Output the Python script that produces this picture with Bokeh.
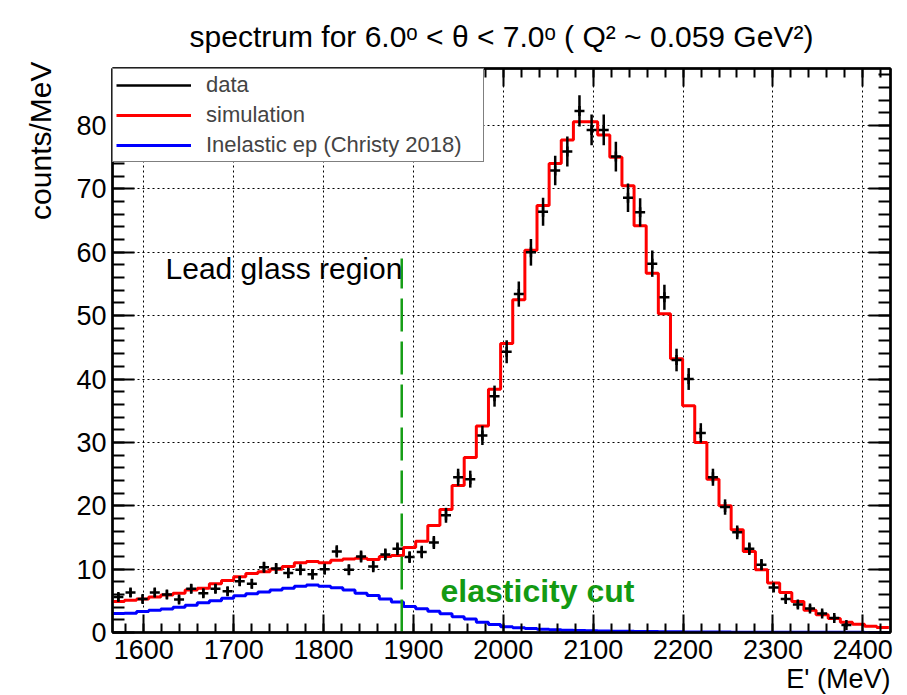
import numpy as np
from bokeh.plotting import figure
from bokeh.models import (ColumnDataSource, Label, Legend, LegendItem,
                          LinearAxis, Range1d, FixedTicker, Title)
from bokeh.embed import file_html
from bokeh.resources import INLINE

# ---- binning of the E' spectrum (MeV) ----
BIN_LOW = 1565.0
BIN_WIDTH = 13.5
N_BINS = 64

# ---- measured spectrum, counts/MeV per bin (filled bins only) ----
data_counts = [5.6, 6.3, 5.3, 6.3, 6.0, 5.2, 6.9, 6.2, 6.9, 6.5,
               8.1, 7.7, 10.3, 10.1, 9.4, 9.9, 9.2, 10.0, 12.8, 9.9,
               12.0, 10.4, 12.3, 13.2, 11.9, 12.7, 14.2, 18.5, 24.5, 24.2,
               31.1, 37.3, 44.3, 53.4, 60.0, 66.4, 72.9, 75.9, 82.3, 79.3,
               79.3, 75.1, 68.6, 66.3, 58.2, 52.9, 43.0, 40.0, 31.5, 24.5,
               19.8, 15.8, 13.2, 10.7, 7.1, 5.3, 4.4, 3.8, 3.0, 2.3,
               1.2]

# ---- full simulation ----
sim_counts = [4.9, 5.1, 5.3, 5.6, 5.9, 6.2, 6.7, 7.0, 7.7, 8.2,
              8.8, 9.3, 9.6, 10.0, 10.4, 11.0, 11.2, 11.0, 11.4, 11.6,
              11.7, 11.5, 12.0, 12.15, 13.4, 14.4, 16.9, 19.4, 23.2, 27.6,
              32.6, 38.4, 45.6, 52.5, 60.3, 67.4, 74.0, 77.7, 80.6, 80.6,
              78.5, 75.0, 70.5, 64.2, 56.7, 50.3, 43.2, 35.8, 30.0, 24.2,
              20.0, 16.2, 12.8, 9.9, 7.8, 6.3, 4.9, 3.5, 2.8, 2.2,
              1.6, 1.3, 1.0, 0.8]

# ---- inelastic ep contribution (Christy 2018) ----
inelastic_counts = [3.0, 3.05, 3.3, 3.5, 3.7, 4.0, 4.3, 4.7, 5.0, 5.4,
                    5.8, 6.1, 6.4, 6.7, 7.0, 7.3, 7.5, 7.3, 7.05, 6.7,
                    6.2, 5.85, 5.3, 4.8, 4.1, 3.75, 3.35, 2.95, 2.5, 2.15,
                    1.6, 1.25, 0.9, 0.75, 0.62, 0.5, 0.42, 0.35, 0.3, 0.27,
                    0.24, 0.21, 0.18, 0.16, 0.14, 0.12, 0.1, 0.09, 0.08, 0.07,
                    0.06, 0.05, 0.05, 0.04, 0.04, 0.03, 0.03, 0.03, 0.02, 0.02,
                    0.02, 0.02, 0.01, 0.01]

# elasticity cut position and the height of its marker line
cut_energy = 1887.0
cut_line_top = 59.0

x_ticks = [1600, 1700, 1800, 1900, 2000, 2100, 2200, 2300, 2400]
y_ticks = [0, 10, 20, 30, 40, 50, 60, 70, 80]

FONT = "Liberation Sans"

edges = BIN_LOW + BIN_WIDTH * np.arange(N_BINS + 1)
centers = 0.5 * (edges[:-1] + edges[1:])


def step_source(values):
    vals = list(values) + [values[-1]]
    return ColumnDataSource(dict(x=list(edges), y=vals))


p = figure(width=907, height=695, output_backend="svg", toolbar_location=None,
           x_range=Range1d(1565.2, 2430.8), y_range=Range1d(0, 89.0),
           min_border_left=112, min_border_right=17,
           min_border_top=68, min_border_bottom=63)
p.background_fill_color = "white"
p.border_fill_color = "white"
p.outline_line_color = "black"
p.outline_line_width = 2

# dotted grid at major ticks
for g in (p.xgrid, p.ygrid):
    g.grid_line_color = "black"
    g.grid_line_dash = "2 3"
    g.grid_line_width = 1
p.xgrid.ticker = FixedTicker(ticks=x_ticks)
p.ygrid.ticker = FixedTicker(ticks=y_ticks)


def style_axis(ax, ticks, minor, major_in, minor_in, labels=True):
    ax.ticker = FixedTicker(ticks=ticks, minor_ticks=minor)
    ax.major_tick_in = major_in
    ax.major_tick_out = 0
    ax.minor_tick_in = minor_in
    ax.minor_tick_out = 0
    ax.axis_line_width = 2.5
    ax.major_tick_line_width = 2
    ax.minor_tick_line_width = 2
    ax.major_label_text_font = FONT
    ax.major_label_text_font_size = "27px"
    ax.major_label_text_color = "black"
    if not labels:
        ax.major_label_overrides = {t: "" for t in ticks}
        ax.major_label_text_font_size = "10px"
        ax.major_label_standoff = 0


x_minor = list(np.arange(1560, 2440, 20))
y_minor = list(np.arange(0, 90, 2))

style_axis(p.xaxis[0], x_ticks, x_minor, 18, 9)
p.xaxis[0].major_label_standoff = 7
style_axis(p.yaxis[0], y_ticks, y_minor, 22, 12)
p.yaxis[0].major_label_standoff = 6

top_axis = LinearAxis()
style_axis(top_axis, x_ticks, x_minor, 18, 9, labels=False)
p.add_layout(top_axis, "above")
right_axis = LinearAxis()
style_axis(right_axis, y_ticks, y_minor, 22, 12, labels=False)
p.add_layout(right_axis, "right")

# histograms
inel_r = p.step("x", "y", source=step_source(inelastic_counts), mode="after",
                line_color="#0000ff", line_width=3)
sim_r = p.step("x", "y", source=step_source(sim_counts), mode="after",
               line_color="#ff0000", line_width=3)

# data points with statistical error bars
y = np.array(data_counts)
xc = centers[:len(y)]
err = np.sqrt(y / BIN_WIDTH)
dsrc = ColumnDataSource(dict(x=xc, y=y, lo=y - err, hi=y + err))
data_r = p.segment(x0="x", y0="lo", x1="x", y1="hi", source=dsrc,
                   line_color="black", line_width=2.5)
p.scatter("x", "y", source=dsrc, marker="cross", size=10,
          line_color="black", line_width=2.5)

# elasticity cut
p.segment(x0=[cut_energy], y0=[0], x1=[cut_energy], y1=[cut_line_top],
          line_color="#169e16", line_width=2.5, line_dash="33 10")

p.add_layout(Label(x=1624.2, y=57.4, text="Lead glass region",
                   text_font=FONT, text_font_size="30px", text_color="black",
                   text_baseline="alphabetic"))
p.add_layout(Label(x=1930.2, y=6.6, text="elasticity cut",
                   text_font=FONT, text_font_size="32px", text_font_style="bold",
                   text_color="#139a13", text_baseline="alphabetic"))

# legend
legend = Legend(items=[
    LegendItem(label="data", renderers=[data_r]),
    LegendItem(label="simulation", renderers=[sim_r]),
    LegendItem(label="Inelastic ep (Christy 2018)", renderers=[inel_r]),
], location="top_left", margin=0, padding=3, spacing=4,
    glyph_width=75, glyph_height=22, label_height=22, label_width=274,
    label_standoff=15, label_text_font=FONT, label_text_font_size="22px",
    border_line_color="black", border_line_width=1.5,
    background_fill_color="white", background_fill_alpha=1.0)
p.add_layout(legend)

# plot title and axis titles
p.title.text = "spectrum for 6.0ᵒ < θ < 7.0ᵒ ( Q² ~ 0.059 GeV²)"
p.title.align = "center"
p.title.text_font = FONT
p.title.text_font_size = "30px"
p.title.text_font_style = "normal"
p.title.text_color = "black"
p.title.standoff = 32

p.add_layout(Title(text="E' (MeV)", align="right", text_font=FONT,
                   text_font_size="27px", text_font_style="normal",
                   text_color="black", standoff=0), "below")
p.add_layout(Title(text="counts/MeV", align="right", text_font=FONT,
                   text_font_size="30px", text_font_style="normal",
                   text_color="black", standoff=34, offset=-7), "left")

open("out.html", "w").write(file_html(p, INLINE))
